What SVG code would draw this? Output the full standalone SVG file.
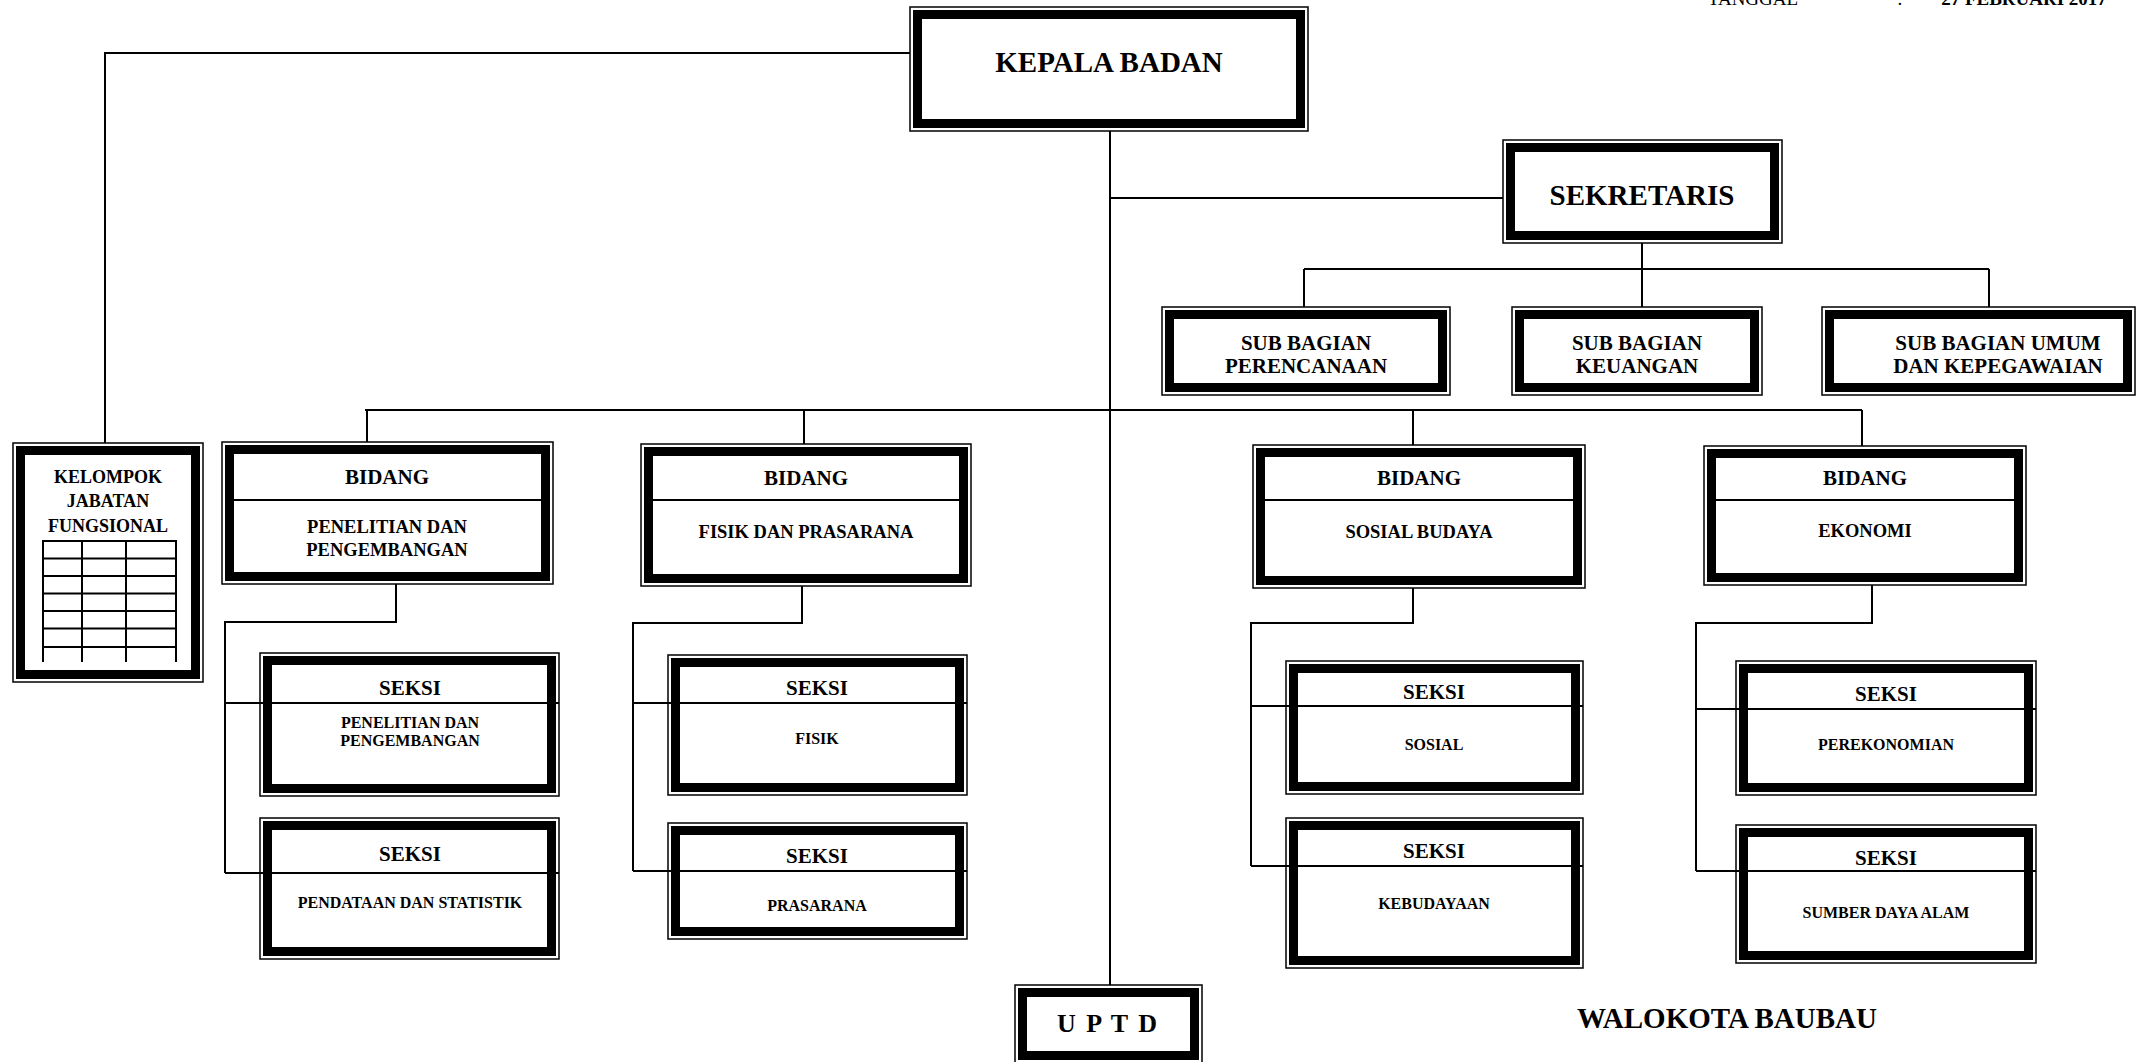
<svg xmlns="http://www.w3.org/2000/svg" width="2138" height="1062" viewBox="0 0 2138 1062">
<style>
.o{fill:#fff;stroke:#000;stroke-width:1.5}
.t{fill:none;stroke:#000;stroke-width:9}
.d{stroke:#000;stroke-width:2}
.c{fill:none;stroke:#000;stroke-width:2}
text{font-family:"Liberation Serif","Times New Roman",serif;font-weight:bold;text-anchor:middle;fill:#000}
.f29{font-size:29px}
.f21{font-size:21px}
.f18{font-size:18.5px}
.f16{font-size:16px}
.fk{font-size:18px}
.g{stroke:#000;stroke-width:2}
</style>
<rect x="0" y="0" width="2138" height="1062" fill="#fff"/>
<g id="header">
<text x="1753" y="5" style="font-size:19px;font-weight:normal">TANGGAL</text>
<text x="1900" y="5" style="font-size:19px;font-weight:normal">:</text>
<text x="2024" y="5" style="font-size:19px">27 FEBRUARI 2017</text>
</g>
<g id="kepala">
<rect class="o" x="910" y="7" width="398" height="124"/>
<rect class="t" x="917.5" y="14.5" width="383" height="109"/>
<text class="f29" x="1109" y="72">KEPALA BADAN</text>
</g>
<g id="sekretaris">
<rect class="o" x="1503" y="140" width="279" height="103"/>
<rect class="t" x="1510.5" y="147.5" width="264" height="88"/>
<text class="f29" x="1642" y="205">SEKRETARIS</text>
</g>
<g id="sub-perencanaan">
<rect class="o" x="1162" y="307" width="288" height="88"/>
<rect class="t" x="1169.5" y="314.5" width="273" height="73"/>
<text class="f21" x="1306" y="350">SUB BAGIAN</text>
<text class="f21" x="1306" y="373">PERENCANAAN</text>
</g>
<g id="sub-keuangan">
<rect class="o" x="1512" y="307" width="250" height="88"/>
<rect class="t" x="1519.5" y="314.5" width="235" height="73"/>
<text class="f21" x="1637" y="350">SUB BAGIAN</text>
<text class="f21" x="1637" y="373">KEUANGAN</text>
</g>
<g id="sub-umum">
<rect class="o" x="1822" y="307" width="313" height="88"/>
<rect class="t" x="1829.5" y="314.5" width="298" height="73"/>
<text class="f21" x="1998" y="350">SUB BAGIAN UMUM</text>
<text class="f21" x="1998" y="373">DAN KEPEGAWAIAN</text>
</g>
<g id="kelompok">
<rect class="o" x="13" y="443" width="190" height="239"/>
<rect class="t" x="20.5" y="450.5" width="175" height="224"/>
<text class="fk" x="108" y="483">KELOMPOK</text>
<text class="fk" x="108" y="507">JABATAN</text>
<text class="fk" x="108" y="532">FUNGSIONAL</text>
<path class="g" d="M43,541H176M43,558.5H176M43,576H176M43,593.5H176M43,611H176M43,628.5H176M43,647H176M43,540V662M82,540V662M126,540V662M176,540V662"/>
</g>
<g id="bidang-litbang">
<rect class="o" x="222" y="442" width="331" height="142"/>
<rect class="t" x="229.5" y="449.5" width="316" height="127"/>
<line class="d" x1="226" y1="500" x2="549" y2="500"/>
<text class="f21" x="387" y="484">BIDANG</text>
<text class="f18" x="387" y="533">PENELITIAN DAN</text>
<text class="f18" x="387" y="556">PENGEMBANGAN</text>
</g>
<g id="bidang-fisik">
<rect class="o" x="641" y="444" width="330" height="142"/>
<rect class="t" x="648.5" y="451.5" width="315" height="127"/>
<line class="d" x1="645" y1="500" x2="967" y2="500"/>
<text class="f21" x="806" y="485">BIDANG</text>
<text class="f18" x="806" y="538">FISIK DAN PRASARANA</text>
</g>
<g id="bidang-sosbud">
<rect class="o" x="1253" y="445" width="332" height="143"/>
<rect class="t" x="1260.5" y="452.5" width="317" height="128"/>
<line class="d" x1="1257" y1="500" x2="1581" y2="500"/>
<text class="f21" x="1419" y="485">BIDANG</text>
<text class="f18" x="1419" y="538">SOSIAL BUDAYA</text>
</g>
<g id="bidang-ekonomi">
<rect class="o" x="1704" y="446" width="322" height="139"/>
<rect class="t" x="1711.5" y="453.5" width="307" height="124"/>
<line class="d" x1="1708" y1="500" x2="2022" y2="500"/>
<text class="f21" x="1865" y="485">BIDANG</text>
<text class="f18" x="1865" y="537">EKONOMI</text>
</g>
<g id="seksi-litbang">
<rect class="o" x="260" y="653" width="299" height="143"/>
<rect class="t" x="267.5" y="660.5" width="284" height="128"/>
<line class="d" x1="260" y1="703" x2="559" y2="703"/>
<text class="f21" x="410" y="695">SEKSI</text>
<text class="f16" x="410" y="728">PENELITIAN DAN</text>
<text class="f16" x="410" y="746">PENGEMBANGAN</text>
</g>
<g id="seksi-pendataan">
<rect class="o" x="260" y="818" width="299" height="141"/>
<rect class="t" x="267.5" y="825.5" width="284" height="126"/>
<line class="d" x1="260" y1="873" x2="559" y2="873"/>
<text class="f21" x="410" y="861">SEKSI</text>
<text class="f16" x="410" y="908">PENDATAAN DAN STATISTIK</text>
</g>
<g id="seksi-fisik">
<rect class="o" x="668" y="655" width="299" height="140"/>
<rect class="t" x="675.5" y="662.5" width="284" height="125"/>
<line class="d" x1="668" y1="703" x2="967" y2="703"/>
<text class="f21" x="817" y="695">SEKSI</text>
<text class="f16" x="817" y="744">FISIK</text>
</g>
<g id="seksi-prasarana">
<rect class="o" x="668" y="823" width="299" height="116"/>
<rect class="t" x="675.5" y="830.5" width="284" height="101"/>
<line class="d" x1="668" y1="871" x2="967" y2="871"/>
<text class="f21" x="817" y="863">SEKSI</text>
<text class="f16" x="817" y="911">PRASARANA</text>
</g>
<g id="seksi-sosial">
<rect class="o" x="1286" y="661" width="297" height="133"/>
<rect class="t" x="1293.5" y="668.5" width="282" height="118"/>
<line class="d" x1="1286" y1="706" x2="1583" y2="706"/>
<text class="f21" x="1434" y="699">SEKSI</text>
<text class="f16" x="1434" y="750">SOSIAL</text>
</g>
<g id="seksi-kebudayaan">
<rect class="o" x="1286" y="818" width="297" height="150"/>
<rect class="t" x="1293.5" y="825.5" width="282" height="135"/>
<line class="d" x1="1286" y1="866" x2="1583" y2="866"/>
<text class="f21" x="1434" y="858">SEKSI</text>
<text class="f16" x="1434" y="909">KEBUDAYAAN</text>
</g>
<g id="seksi-perekonomian">
<rect class="o" x="1736" y="661" width="300" height="134"/>
<rect class="t" x="1743.5" y="668.5" width="285" height="119"/>
<line class="d" x1="1736" y1="709" x2="2036" y2="709"/>
<text class="f21" x="1886" y="701">SEKSI</text>
<text class="f16" x="1886" y="750">PEREKONOMIAN</text>
</g>
<g id="seksi-sda">
<rect class="o" x="1736" y="825" width="300" height="138"/>
<rect class="t" x="1743.5" y="832.5" width="285" height="123"/>
<line class="d" x1="1736" y1="871" x2="2036" y2="871"/>
<text class="f21" x="1886" y="865">SEKSI</text>
<text class="f16" x="1886" y="918">SUMBER DAYA ALAM</text>
</g>
<g id="uptd">
<rect class="o" x="1015" y="985" width="187" height="78"/>
<rect class="t" x="1022.5" y="992.5" width="172" height="63"/>
<text x="1108" y="1032" style="font-size:26px;letter-spacing:2px">U P T D</text>
</g>
<g id="walokota">
<text class="f29" x="1727" y="1028">WALOKOTA BAUBAU</text>
</g>
<g id="connectors">
<path class="c" d="M910,53H105V443"/>
<path class="c" d="M1110,131V985"/>
<path class="c" d="M1110,198H1503"/>
<path class="c" d="M1642,243V269M1304,269H1989M1304,269V307M1642,269V307M1989,269V307"/>
<path class="c" d="M365,410H1862M367,410V442M804,410V444M1413,410V445M1862,410V446"/>
<path class="c" d="M396,584V622H225V873M225,703H260M225,873H260"/>
<path class="c" d="M802,586V623H633V871M633,703H668M633,871H668"/>
<path class="c" d="M1413,588V623H1251V866M1251,706H1286M1251,866H1286"/>
<path class="c" d="M1872,585V623H1696V871M1696,709H1736M1696,871H1736"/>
</g>
</svg>
